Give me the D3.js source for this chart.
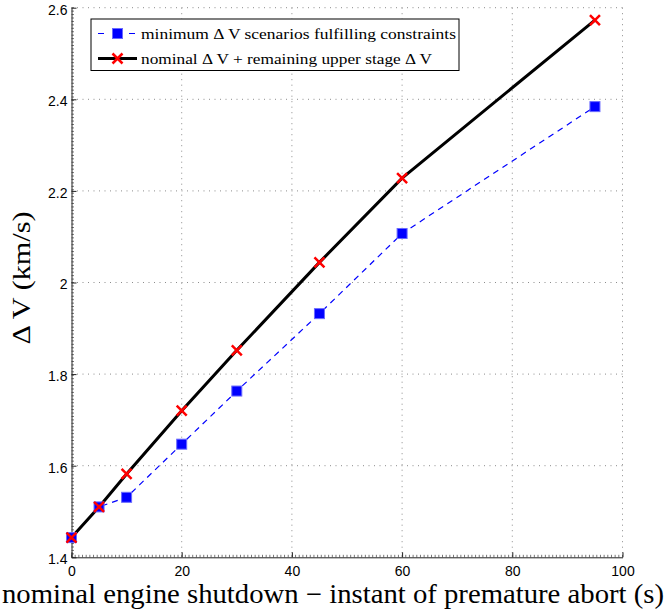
<!DOCTYPE html>
<html>
<head>
<meta charset="utf-8">
<script src="https://cdn.jsdelivr.net/npm/d3@7"></script>
<style>
  html, body { margin: 0; padding: 0; background: #fff; }
  svg { display: block; }
</style>
</head>
<body>
<svg id="chart" width="666" height="612"></svg>
<script>
// Time between nominal engine shutdown and premature abort (s)
const abortTimes = [0, 5, 10, 20, 30, 45, 60, 95];
// Minimum ΔV of scenarios that fulfil the constraints (km/s)
const minDeltaV = [1.443, 1.510, 1.531, 1.647, 1.763, 1.932, 2.107, 2.384];
// Nominal ΔV plus the remaining upper-stage ΔV (km/s)
const nominalDeltaV = [1.443, 1.510, 1.582, 1.720, 1.852, 2.044, 2.228, 2.573];

const xTicks = [0, 20, 40, 60, 80, 100];
const yTicks = [1.4, 1.6, 1.8, 2.0, 2.2, 2.4, 2.6];

const legendLabels = [
  "minimum \u0394 V scenarios fulfilling constraints",
  "nominal \u0394 V + remaining upper stage \u0394 V"
];
const xTitle = "nominal engine shutdown \u2212 instant of premature abort (s)";
const yTitle = "\u0394 V (km/s)";

const svg = d3.select("#chart");
const plotLeft = 71.5, plotRight = 622.5, plotTop = 7.7, plotBottom = 557.3;

const x = d3.scaleLinear().domain([0, 100]).range([plotLeft, plotRight]);
const y = d3.scaleLinear().domain([1.4, 2.6]).range([plotBottom, plotTop]);

const sansFont = "'Liberation Sans', Arial, sans-serif";
const serifFont = "'Liberation Serif', 'Times New Roman', serif";

// Dotted grid at every major tick
const grid = svg.append("g");
grid.selectAll("line.gx").data(xTicks.slice(1)).join("line")
  .attr("x1", d => x(d)).attr("x2", d => x(d))
  .attr("y1", plotTop).attr("y2", plotBottom)
  .attr("stroke", "#8c8c8c").attr("stroke-width", 1)
  .attr("stroke-dasharray", "1,4.5");
grid.selectAll("line.gy").data(yTicks.slice(1)).join("line")
  .attr("x1", plotLeft).attr("x2", plotRight)
  .attr("y1", d => y(d)).attr("y2", d => y(d))
  .attr("stroke", "#8c8c8c").attr("stroke-width", 1)
  .attr("stroke-dasharray", "1,4.5");

// Minor tick marks along both axes
const xMinor = d3.range(0, 100.001, 100 / 150);
const yMinor = d3.range(1.4, 2.6001, 1.2 / 160);
svg.append("g").selectAll("line").data(xMinor).join("line")
  .attr("x1", d => x(d)).attr("x2", d => x(d))
  .attr("y1", plotBottom).attr("y2", plotBottom - 2.5)
  .attr("stroke", "#777").attr("stroke-width", 1);
svg.append("g").selectAll("line").data(yMinor).join("line")
  .attr("x1", plotLeft).attr("x2", plotLeft + 2.5)
  .attr("y1", d => y(d)).attr("y2", d => y(d))
  .attr("stroke", "#777").attr("stroke-width", 1);

// Axes
const xAxis = svg.append("g")
  .attr("transform", `translate(0,${plotBottom})`)
  .call(d3.axisBottom(x).tickValues(xTicks).tickSizeInner(-5).tickSizeOuter(0)
    .tickPadding(9).tickFormat(d3.format("d")));
const yAxis = svg.append("g")
  .attr("transform", `translate(${plotLeft},0)`)
  .call(d3.axisLeft(y).tickValues(yTicks).tickSizeInner(-5).tickSizeOuter(0)
    .tickPadding(4).tickFormat(d => d === 2 ? "2" : d3.format(".1f")(d)));
[xAxis, yAxis].forEach(a => {
  a.select(".domain").attr("stroke", "#222").attr("stroke-width", 1);
  a.selectAll(".tick line").attr("stroke", "#222");
  a.selectAll("text").attr("font-family", sansFont).attr("font-size", 14).attr("fill", "#000");
});
xAxis.selectAll("text").attr("dy", "0.71em");
yAxis.selectAll("text").attr("dy", "0.45em");

// Axis titles
svg.append("text")
  .attr("x", 2).attr("y", 603)
  .attr("font-family", serifFont).attr("font-size", 27)
  .attr("textLength", 662).attr("lengthAdjust", "spacingAndGlyphs")
  .text(xTitle);
svg.append("text")
  .attr("transform", "translate(30,278) rotate(-90)")
  .attr("x", -66.5)
  .attr("font-family", serifFont).attr("font-size", 25)
  .attr("textLength", 133).attr("lengthAdjust", "spacingAndGlyphs")
  .text(yTitle);

// Series
const pts = (vals) => abortTimes.map((t, i) => [t, vals[i]]);
const line = d3.line().x(d => x(d[0])).y(d => y(d[1]));

svg.append("path").datum(pts(minDeltaV))
  .attr("d", line).attr("fill", "none")
  .attr("stroke", "#0000ff").attr("stroke-width", 1.2)
  .attr("stroke-dasharray", "6,5");
svg.append("path").datum(pts(nominalDeltaV))
  .attr("d", line).attr("fill", "none")
  .attr("stroke", "#000").attr("stroke-width", 3);

const sq = 10;
svg.append("g").selectAll("rect").data(pts(minDeltaV)).join("rect")
  .attr("x", d => x(d[0]) - sq / 2).attr("y", d => y(d[1]) - sq / 2)
  .attr("width", sq).attr("height", sq)
  .attr("fill", "#0000ff").attr("stroke", "#6a6aff").attr("stroke-width", 1);

const cr = 5;
const crossPath = (cx, cy) =>
  `M${cx - cr},${cy - cr}L${cx + cr},${cy + cr}M${cx - cr},${cy + cr}L${cx + cr},${cy - cr}`;
svg.append("g").selectAll("path").data(pts(nominalDeltaV)).join("path")
  .attr("d", d => crossPath(x(d[0]), y(d[1])))
  .attr("stroke", "#ff0000").attr("stroke-width", 2.5).attr("fill", "none");

// Legend
const lg = svg.append("g");
lg.append("rect").attr("x", 91).attr("y", 19).attr("width", 368).attr("height", 51.5)
  .attr("fill", "#fff").attr("stroke", "#000").attr("stroke-width", 1);
const rows = [33.5, 58.5];
const legendWidths = [315, 291];
// row 1: dashed blue with square
lg.append("line").attr("x1", 98).attr("x2", 137).attr("y1", rows[0]).attr("y2", rows[0])
  .attr("stroke", "#0000ff").attr("stroke-width", 1.2).attr("stroke-dasharray", "6,25");
lg.append("rect").attr("x", 117.5 - sq / 2).attr("y", rows[0] - sq / 2)
  .attr("width", sq).attr("height", sq)
  .attr("fill", "#0000ff").attr("stroke", "#6a6aff").attr("stroke-width", 1);
// row 2: black with red cross
lg.append("line").attr("x1", 98).attr("x2", 137).attr("y1", rows[1]).attr("y2", rows[1])
  .attr("stroke", "#000").attr("stroke-width", 3);
lg.append("path").attr("d", crossPath(117.5, rows[1]))
  .attr("stroke", "#ff0000").attr("stroke-width", 2.5).attr("fill", "none");
lg.selectAll("text").data(legendLabels).join("text")
  .attr("x", 141).attr("y", (d, i) => rows[i] + 5.5)
  .attr("font-family", serifFont).attr("font-size", 15)
  .attr("textLength", (d, i) => legendWidths[i]).attr("lengthAdjust", "spacingAndGlyphs")
  .text(d => d);
</script>
</body>
</html>
